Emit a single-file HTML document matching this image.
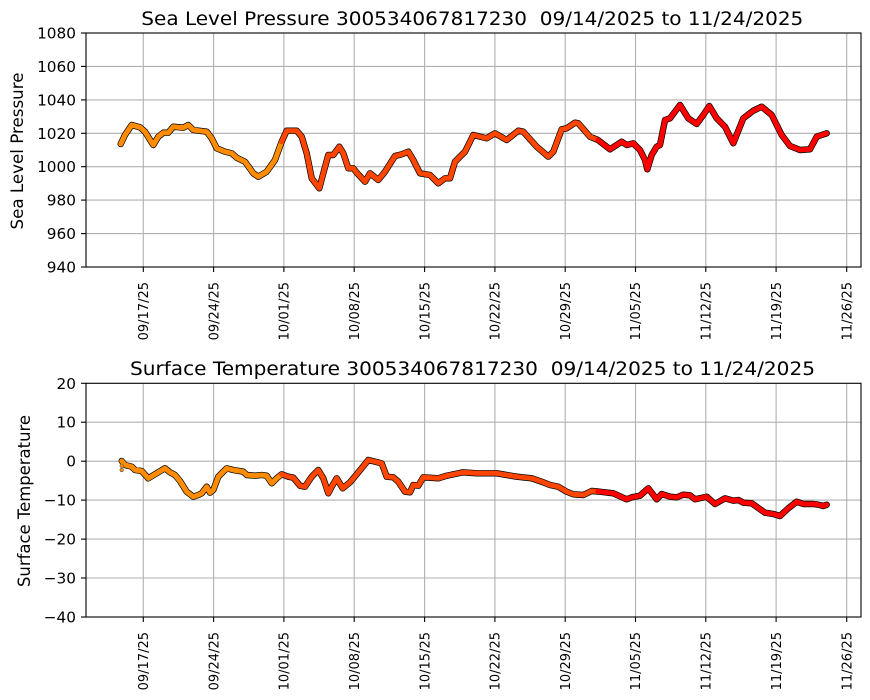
<!DOCTYPE html>
<html><head><meta charset="utf-8"><style>
html,body{margin:0;padding:0;background:#fff;}
svg{display:block;font-family:"DejaVu Sans","Liberation Sans",sans-serif;}
</style></head><body>
<svg width="870" height="700" viewBox="0 0 870 700" xmlns="http://www.w3.org/2000/svg">
<rect width="870" height="700" fill="#fff"/>
<!-- ===== TOP AXES ===== -->
<g stroke="#b0b0b0" stroke-width="1.1">
<line x1="143.3" y1="33" x2="143.3" y2="267"/><line x1="213.6" y1="33" x2="213.6" y2="267"/><line x1="283.9" y1="33" x2="283.9" y2="267"/><line x1="354.2" y1="33" x2="354.2" y2="267"/><line x1="424.6" y1="33" x2="424.6" y2="267"/><line x1="494.9" y1="33" x2="494.9" y2="267"/><line x1="565.2" y1="33" x2="565.2" y2="267"/><line x1="635.5" y1="33" x2="635.5" y2="267"/><line x1="705.8" y1="33" x2="705.8" y2="267"/><line x1="776.1" y1="33" x2="776.1" y2="267"/><line x1="846.7" y1="33" x2="846.7" y2="267"/>
<line x1="86" y1="66.4" x2="861" y2="66.4"/><line x1="86" y1="99.9" x2="861" y2="99.9"/><line x1="86" y1="133.3" x2="861" y2="133.3"/><line x1="86" y1="166.7" x2="861" y2="166.7"/><line x1="86" y1="200.1" x2="861" y2="200.1"/><line x1="86" y1="233.6" x2="861" y2="233.6"/>
</g>
<g fill="none" stroke-linejoin="round" stroke-linecap="round">
<polyline stroke="#000" stroke-width="6.4" points="120.7,144 125,135 131.7,125 140,127.3 145,131.7 153.3,145 158.3,136.7 163.3,132.7 168.3,132.7 173.3,126.7 183.3,127.7 188.3,125 193.3,130 206.7,131.7 211.7,138.3 216.7,148.3 225,151.7 231.7,153.3 236.7,157.7 245,161.7 253.3,173.3 258.3,176.7 266.7,171.7 275,160 281.7,141.7 286.7,130.7 296.7,130.7 301.7,136.7 306.7,153.3 311.7,178.3 319.3,188.3 323.3,173.3 328.3,155 333.3,155 339.3,146.7 343.3,153.3 348.3,168.3 353.3,168.3 356.7,172.7 365,181.7 370,173.3 378.3,180 385,171.7 395,156 401.7,154.3 408.3,151.7 413.3,160 420,173.3 430,175 438.3,183.3 445,178.3 450,178.3 455,161.7 465,151.7 473.3,135 486.7,138.3 495,133.3 506.7,140 518.3,130.7 523.3,131.7 536.7,146.7 548.3,156.7 553.3,151.7 561.7,129.3 566.7,128.3 575,122.7 578.3,123.3 590,136.7 598,140 610,149.3 621.7,141.7 626.7,145 633.3,143.3 640,150 645,160 647.3,169.3 651.7,155 656.7,146.7 660,145 665,120 670,118.3 680,105 688.3,118.3 696.7,124 703.3,115 709.3,106 716.7,118.3 725,126.7 733.3,143.3 743.3,118.3 753.3,110.7 761.7,106.7 771.7,115 781.7,135 790,146 800,150 810,149.3 816.7,136.7 821.7,135 826.7,133.3"/>
<polyline stroke="#ff8c00" stroke-width="5" points="120.7,144 125,135 131.7,125 140,127.3 145,131.7 153.3,145 158.3,136.7 163.3,132.7 168.3,132.7 173.3,126.7 183.3,127.7 188.3,125 193.3,130 206.7,131.7 211.7,138.3 216.7,148.3 225,151.7 231.7,153.3 236.7,157.7 245,161.7 253.3,173.3 258.3,176.7 266.7,171.7 275,160 281.7,141.7"/>
<polyline stroke="#ff4500" stroke-width="5" points="281.7,141.7 286.7,130.7 296.7,130.7 301.7,136.7 306.7,153.3 311.7,178.3 319.3,188.3 323.3,173.3 328.3,155 333.3,155 339.3,146.7 343.3,153.3 348.3,168.3 353.3,168.3 356.7,172.7 365,181.7 370,173.3 378.3,180 385,171.7 395,156 401.7,154.3 408.3,151.7 413.3,160 420,173.3 430,175 438.3,183.3 445,178.3 450,178.3 455,161.7 465,151.7 473.3,135 486.7,138.3 495,133.3 506.7,140 518.3,130.7 523.3,131.7 536.7,146.7 548.3,156.7 553.3,151.7 561.7,129.3 566.7,128.3 575,122.7 578.3,123.3 590,136.7 598,140"/>
<polyline stroke="#ff0000" stroke-width="5" points="598,140 610,149.3 621.7,141.7 626.7,145 633.3,143.3 640,150 645,160 647.3,169.3 651.7,155 656.7,146.7 660,145 665,120 670,118.3 680,105 688.3,118.3 696.7,124 703.3,115 709.3,106 716.7,118.3 725,126.7 733.3,143.3 743.3,118.3 753.3,110.7 761.7,106.7 771.7,115 781.7,135 790,146 800,150 810,149.3 816.7,136.7 821.7,135 826.7,133.3"/>
</g>
<rect x="86" y="33" width="775" height="234" fill="none" stroke="#000" stroke-width="1.1"/>
<g stroke="#000" stroke-width="1.1">
<line x1="81" y1="33" x2="86" y2="33"/><line x1="81" y1="66.4" x2="86" y2="66.4"/><line x1="81" y1="99.9" x2="86" y2="99.9"/><line x1="81" y1="133.3" x2="86" y2="133.3"/><line x1="81" y1="166.7" x2="86" y2="166.7"/><line x1="81" y1="200.1" x2="86" y2="200.1"/><line x1="81" y1="233.6" x2="86" y2="233.6"/><line x1="81" y1="267" x2="86" y2="267"/>
<line x1="143.3" y1="267" x2="143.3" y2="272"/><line x1="213.6" y1="267" x2="213.6" y2="272"/><line x1="283.9" y1="267" x2="283.9" y2="272"/><line x1="354.2" y1="267" x2="354.2" y2="272"/><line x1="424.6" y1="267" x2="424.6" y2="272"/><line x1="494.9" y1="267" x2="494.9" y2="272"/><line x1="565.2" y1="267" x2="565.2" y2="272"/><line x1="635.5" y1="267" x2="635.5" y2="272"/><line x1="705.8" y1="267" x2="705.8" y2="272"/><line x1="776.1" y1="267" x2="776.1" y2="272"/><line x1="846.7" y1="267" x2="846.7" y2="272"/>
</g>
<g font-size="15.3" fill="#000" text-anchor="end">
<text x="76" y="33" dy="0.36em">1080</text><text x="76" y="66.4" dy="0.36em">1060</text><text x="76" y="99.9" dy="0.36em">1040</text><text x="76" y="133.3" dy="0.36em">1020</text><text x="76" y="166.7" dy="0.36em">1000</text><text x="76" y="200.1" dy="0.36em">980</text><text x="76" y="233.6" dy="0.36em">960</text><text x="76" y="267" dy="0.36em">940</text>
</g>
<g font-size="13" fill="#000" text-anchor="end">
<text transform="translate(143.3,282) rotate(-90)" dy="0.36em">09/17/25</text>
<text transform="translate(213.6,282) rotate(-90)" dy="0.36em">09/24/25</text>
<text transform="translate(283.9,282) rotate(-90)" dy="0.36em">10/01/25</text>
<text transform="translate(354.2,282) rotate(-90)" dy="0.36em">10/08/25</text>
<text transform="translate(424.6,282) rotate(-90)" dy="0.36em">10/15/25</text>
<text transform="translate(494.9,282) rotate(-90)" dy="0.36em">10/22/25</text>
<text transform="translate(565.2,282) rotate(-90)" dy="0.36em">10/29/25</text>
<text transform="translate(635.5,282) rotate(-90)" dy="0.36em">11/05/25</text>
<text transform="translate(705.8,282) rotate(-90)" dy="0.36em">11/12/25</text>
<text transform="translate(776.1,282) rotate(-90)" dy="0.36em">11/19/25</text>
<text transform="translate(846.7,282) rotate(-90)" dy="0.36em">11/26/25</text>
</g>
<text x="472.3" y="25" font-size="18.3" text-anchor="middle" textLength="662" lengthAdjust="spacingAndGlyphs" xml:space="preserve">Sea Level Pressure 300534067817230  09/14/2025 to 11/24/2025</text>
<text transform="translate(23,151) rotate(-90)" font-size="16.5" text-anchor="middle" textLength="157" lengthAdjust="spacingAndGlyphs">Sea Level Pressure</text>

<!-- ===== BOTTOM AXES ===== -->
<g stroke="#b0b0b0" stroke-width="1.1">
<line x1="143.3" y1="383.3" x2="143.3" y2="617"/><line x1="213.6" y1="383.3" x2="213.6" y2="617"/><line x1="283.9" y1="383.3" x2="283.9" y2="617"/><line x1="354.2" y1="383.3" x2="354.2" y2="617"/><line x1="424.6" y1="383.3" x2="424.6" y2="617"/><line x1="494.9" y1="383.3" x2="494.9" y2="617"/><line x1="565.2" y1="383.3" x2="565.2" y2="617"/><line x1="635.5" y1="383.3" x2="635.5" y2="617"/><line x1="705.8" y1="383.3" x2="705.8" y2="617"/><line x1="776.1" y1="383.3" x2="776.1" y2="617"/><line x1="846.7" y1="383.3" x2="846.7" y2="617"/>
<line x1="86" y1="422.2" x2="861" y2="422.2"/><line x1="86" y1="461.2" x2="861" y2="461.2"/><line x1="86" y1="500.1" x2="861" y2="500.1"/><line x1="86" y1="539.1" x2="861" y2="539.1"/><line x1="86" y1="578" x2="861" y2="578"/>
</g>
<g fill="none" stroke-linejoin="round" stroke-linecap="round">
<polyline stroke="#000" stroke-width="6.4" points="121.7,461 125,465 131.7,466.7 135,470 141.7,471 148.3,478.3 155,474.3 165,468.3 170,472.3 175,475 180,481 186.7,491.7 193.3,496.7 198.3,495 201.7,493.3 206.7,486.7 210,492.7 213.3,490 218.3,476.7 226.7,468.3 233.3,470 243.3,471.7 246.7,475 255,475.7 261.7,475 266.7,475.7 271.7,483.3 276.7,478.3 281.7,474.3 288.3,476.7 293.3,477.7 300,485.7 305,486.7 311.7,476.7 318.3,470 323.3,478.3 328.3,493.3 331.7,486.7 336.7,478.3 342.7,488.3 350,482.3 356.7,474.3 368.3,460 381.7,463.3 386.7,476.7 393.3,477.3 398.3,481.7 405,491.7 410,492.3 413.3,485 418.3,485.7 423.3,477.3 438.3,478.3 446.7,475.7 463.3,472.3 476.7,473.3 496.7,473.3 516.7,476.7 531.7,478.3 543.3,482.3 550,485 558.3,486.7 566.7,491.7 573.3,494.3 583.3,495 591.7,491 598,491.5 613.3,493.3 626.7,499.3 631.7,497.3 640,495.7 648.3,488.3 656.7,499.3 661.7,494 670,496.7 676.7,497.3 683.3,494.7 690,495.3 695,499.3 706.7,496.7 715,504 725,498.3 733.3,500.7 738.3,500 743.3,502.7 751.7,503.3 765,512.7 773.3,514 780,516 788.3,508.3 796.7,501.7 803.3,504 813.3,504 818.3,504.7 823.3,506 826.7,504.7"/>
<polyline stroke="#ff8c00" stroke-width="5" points="121.7,461 125,465 131.7,466.7 135,470 141.7,471 148.3,478.3 155,474.3 165,468.3 170,472.3 175,475 180,481 186.7,491.7 193.3,496.7 198.3,495 201.7,493.3 206.7,486.7 210,492.7 213.3,490 218.3,476.7 226.7,468.3 233.3,470 243.3,471.7 246.7,475 255,475.7 261.7,475 266.7,475.7 271.7,483.3 276.7,478.3 281.7,474.3"/>
<polyline stroke="#ff4500" stroke-width="5" points="281.7,474.3 288.3,476.7 293.3,477.7 300,485.7 305,486.7 311.7,476.7 318.3,470 323.3,478.3 328.3,493.3 331.7,486.7 336.7,478.3 342.7,488.3 350,482.3 356.7,474.3 368.3,460 381.7,463.3 386.7,476.7 393.3,477.3 398.3,481.7 405,491.7 410,492.3 413.3,485 418.3,485.7 423.3,477.3 438.3,478.3 446.7,475.7 463.3,472.3 476.7,473.3 496.7,473.3 516.7,476.7 531.7,478.3 543.3,482.3 550,485 558.3,486.7 566.7,491.7 573.3,494.3 583.3,495 591.7,491 598,491.5"/>
<polyline stroke="#ff0000" stroke-width="5" points="598,491.5 613.3,493.3 626.7,499.3 631.7,497.3 640,495.7 648.3,488.3 656.7,499.3 661.7,494 670,496.7 676.7,497.3 683.3,494.7 690,495.3 695,499.3 706.7,496.7 715,504 725,498.3 733.3,500.7 738.3,500 743.3,502.7 751.7,503.3 765,512.7 773.3,514 780,516 788.3,508.3 796.7,501.7 803.3,504 813.3,504 818.3,504.7 823.3,506 826.7,504.7"/>
</g>
<circle cx="121.7" cy="465.8" r="1.8" fill="#ff8c00" stroke="#555" stroke-width="0.6"/>
<circle cx="121.7" cy="470" r="1.8" fill="#ff8c00" stroke="#555" stroke-width="0.6"/>
<rect x="86" y="383.3" width="775" height="233.7" fill="none" stroke="#000" stroke-width="1.1"/>
<g stroke="#000" stroke-width="1.1">
<line x1="81" y1="383.3" x2="86" y2="383.3"/><line x1="81" y1="422.2" x2="86" y2="422.2"/><line x1="81" y1="461.2" x2="86" y2="461.2"/><line x1="81" y1="500.1" x2="86" y2="500.1"/><line x1="81" y1="539.1" x2="86" y2="539.1"/><line x1="81" y1="578" x2="86" y2="578"/><line x1="81" y1="617" x2="86" y2="617"/>
<line x1="143.3" y1="617" x2="143.3" y2="622"/><line x1="213.6" y1="617" x2="213.6" y2="622"/><line x1="283.9" y1="617" x2="283.9" y2="622"/><line x1="354.2" y1="617" x2="354.2" y2="622"/><line x1="424.6" y1="617" x2="424.6" y2="622"/><line x1="494.9" y1="617" x2="494.9" y2="622"/><line x1="565.2" y1="617" x2="565.2" y2="622"/><line x1="635.5" y1="617" x2="635.5" y2="622"/><line x1="705.8" y1="617" x2="705.8" y2="622"/><line x1="776.1" y1="617" x2="776.1" y2="622"/><line x1="846.7" y1="617" x2="846.7" y2="622"/>
</g>
<g font-size="15.3" fill="#000" text-anchor="end">
<text x="76" y="383.3" dy="0.36em">20</text><text x="76" y="422.2" dy="0.36em">10</text><text x="76" y="461.2" dy="0.36em">0</text><text x="76" y="500.1" dy="0.36em">−10</text><text x="76" y="539.1" dy="0.36em">−20</text><text x="76" y="578" dy="0.36em">−30</text><text x="76" y="617" dy="0.36em">−40</text>
</g>
<g font-size="13" fill="#000" text-anchor="end">
<text transform="translate(143.3,632) rotate(-90)" dy="0.36em">09/17/25</text>
<text transform="translate(213.6,632) rotate(-90)" dy="0.36em">09/24/25</text>
<text transform="translate(283.9,632) rotate(-90)" dy="0.36em">10/01/25</text>
<text transform="translate(354.2,632) rotate(-90)" dy="0.36em">10/08/25</text>
<text transform="translate(424.6,632) rotate(-90)" dy="0.36em">10/15/25</text>
<text transform="translate(494.9,632) rotate(-90)" dy="0.36em">10/22/25</text>
<text transform="translate(565.2,632) rotate(-90)" dy="0.36em">10/29/25</text>
<text transform="translate(635.5,632) rotate(-90)" dy="0.36em">11/05/25</text>
<text transform="translate(705.8,632) rotate(-90)" dy="0.36em">11/12/25</text>
<text transform="translate(776.1,632) rotate(-90)" dy="0.36em">11/19/25</text>
<text transform="translate(846.7,632) rotate(-90)" dy="0.36em">11/26/25</text>
</g>
<text x="472.5" y="375" font-size="18.3" text-anchor="middle" textLength="685" lengthAdjust="spacingAndGlyphs" xml:space="preserve">Surface Temperature 300534067817230  09/14/2025 to 11/24/2025</text>
<text transform="translate(30,501) rotate(-90)" font-size="16.5" text-anchor="middle" textLength="172" lengthAdjust="spacingAndGlyphs">Surface Temperature</text>
</svg>
</body></html>
